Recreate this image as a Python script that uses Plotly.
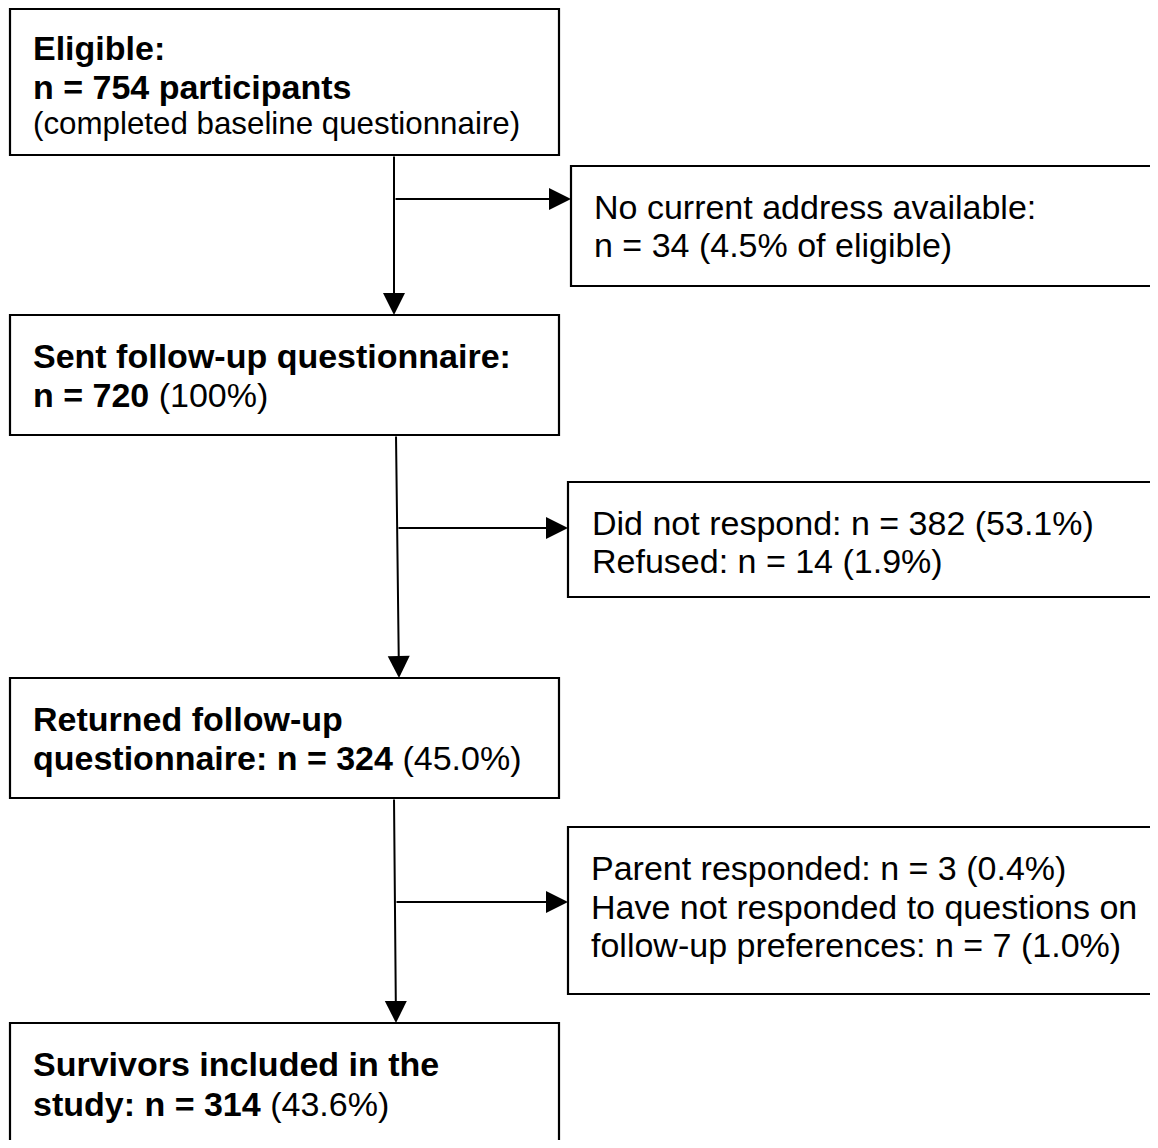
import plotly.graph_objects as go

# ---- data ----
stages = ["Eligible", "Sent follow-up questionnaire", "Returned follow-up questionnaire", "Survivors included in the study"]
stage_n = [754, 720, 324, 314]
stage_pct = [None, "100%", "45.0%", "43.6%"]
excl_labels = [["No current address available"],
               ["Did not respond", "Refused"],
               ["Parent responded", "Have not responded to questions on follow-up preferences"]]
excl_n = [[34], [382, 14], [3, 7]]
excl_pct = [["4.5% of eligible"], ["53.1%", "1.9%"], ["0.4%", "1.0%"]]

W, H = 1158, 1148
OFF = 8  # page body margin
FONT = "Liberation Sans, Arial, sans-serif"
FS = 34

# main boxes: (x0, y0, x1, y1) and text lines
main_boxes = [(10, 9, 559, 155), (10, 315, 559, 435), (10, 678, 559, 798), (10, 1023, 559, 1170)]
main_lines = [
    [("<b>%s:</b>" % stages[0], 48, FS), ("<b>n = %d participants</b>" % stage_n[0], 87, FS),
     ("(completed baseline questionnaire)", 123, 31.3)],
    [("<b>%s:</b>" % stages[1], 356, FS), ("<b>n = %d</b> (%s)" % (stage_n[1], stage_pct[1]), 395, FS)],
    [("<b>Returned follow-up</b>", 719, FS), ("<b>questionnaire: n = %d</b> (%s)" % (stage_n[2], stage_pct[2]), 758, FS)],
    [("<b>Survivors included in the</b>", 1064, FS), ("<b>study: n = %d</b> (%s)" % (stage_n[3], stage_pct[3]), 1104, FS)],
]

side_boxes = [(571, 166, 1180, 286), (568, 482, 1180, 597), (568, 827, 1180, 994)]
side_x = [592, 590, 589]
side_lines = [
    [("%s:" % excl_labels[0][0], 207), ("n = %d (%s)" % (excl_n[0][0], excl_pct[0][0]), 245)],
    [("%s: n = %d (%s)" % (excl_labels[1][0], excl_n[1][0], excl_pct[1][0]), 523),
     ("%s: n = %d (%s)" % (excl_labels[1][1], excl_n[1][1], excl_pct[1][1]), 561)],
    [("%s: n = %d (%s)" % (excl_labels[2][0], excl_n[2][0], excl_pct[2][0]), 868),
     ("Have not responded to questions on", 907),
     ("follow-up preferences: n = %d (%s)" % (excl_n[2][1], excl_pct[2][1]), 945)],
]

fig = go.Figure()
fig.add_trace(go.Scatter(x=[0, W], y=[0, H], mode="markers", marker=dict(opacity=0), hoverinfo="skip", showlegend=False))

shapes = []
for (x0, y0, x1, y1) in main_boxes + side_boxes:
    shapes.append(dict(type="rect", x0=x0, y0=y0, x1=x1, y1=y1, xref="x", yref="y",
                       line=dict(color="black", width=2.2), fillcolor="rgba(0,0,0,0)"))

anns = []
for lines in main_lines:
    for txt, y, fs in lines:
        anns.append(dict(x=31, y=y, text=txt, showarrow=False, xanchor="left", yanchor="middle",
                         xref="x", yref="y", font=dict(family=FONT, size=fs, color="black")))
for sx, lines in zip(side_x, side_lines):
    for txt, y in lines:
        anns.append(dict(x=sx, y=y, text=txt, showarrow=False, xanchor="left", yanchor="middle",
                         xref="x", yref="y", font=dict(family=FONT, size=FS, color="black")))

# arrows: (x_tail, y_tail, x_head, y_head)
arrows = [
    (394, 155, 394, 315), (394, 199, 571, 199),
    (396, 435, 399, 678), (397, 528, 568, 528),
    (394, 798, 396, 1023), (395, 902, 568, 902),
]
for xt, yt, xh, yh in arrows:
    anns.append(dict(x=xh, y=yh, ax=xt, ay=yt, xref="x", yref="y", axref="x", ayref="y",
                     text="", showarrow=True, arrowhead=2, arrowsize=2.2, arrowwidth=2,
                     arrowcolor="black", standoff=0, startstandoff=0))

fig.update_layout(
    width=W - 2 * OFF, height=H - 2 * OFF, margin=dict(l=0, r=0, t=0, b=0),
    paper_bgcolor="white", plot_bgcolor="white",
    xaxis=dict(range=[OFF, W - OFF], visible=False, fixedrange=True),
    yaxis=dict(range=[H - OFF, OFF], visible=False, fixedrange=True),
    shapes=shapes, annotations=anns, showlegend=False,
)
fig.write_html("out.html")
